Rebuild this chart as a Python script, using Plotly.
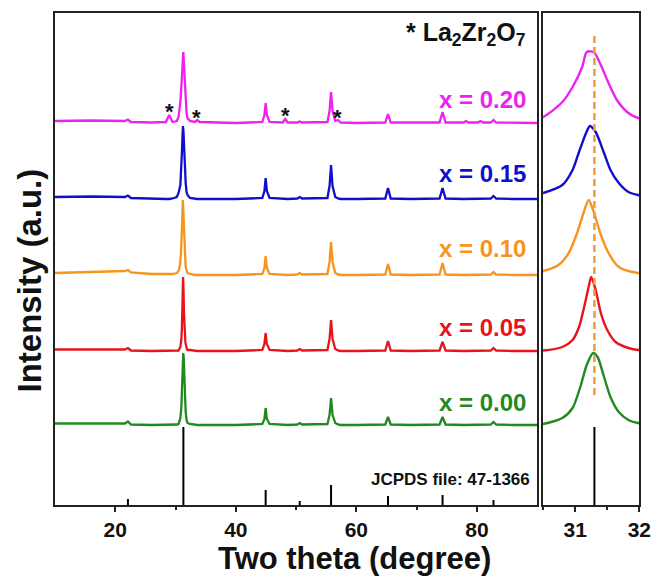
import plotly.graph_objects as go

# ---------------- data ----------------
SERIES = ["x = 0.20", "x = 0.15", "x = 0.10", "x = 0.05", "x = 0.00"]
COLORS = ["#ee22ee", "#1010cc", "#f7941d", "#e8141b", "#1f8a1f"]
OFFSETS = [382, 306, 230, 154, 80]

LOW_X = [10, 16, 21.6, 22.1, 22.6, 26, 28.4, 28.95, 29.5, 30.2]
LOW_Y = [
    [2, 2.5, 2, 3.5, 1, 0.5, 1, 8, 1, 2],
    [2, 2.5, 2, 3.5, 1, 0, 0, 0, 0.5, 2],
    [2, 3, 4, 5, 2.5, 1, 0.5, 0.5, 1, 2],
    [1.5, 1.5, 1.5, 3, 0.5, 0, 0, 0, 0.3, 0.5],
    [1.5, 1.5, 1.5, 3.5, 0.5, 0, 0, 0, 0.3, 0.5],
]

MAIN_X = [
    [30.5, 30.8, 30.96, 31.11, 31.18, 31.29, 31.40, 31.52, 31.65, 31.83, 31.98],
    [30.5, 30.8, 30.96, 31.06, 31.17, 31.23, 31.32, 31.45, 31.55, 31.68, 31.83, 31.98],
    [30.5, 30.74, 30.9, 31.03, 31.13, 31.21, 31.28, 31.39, 31.52, 31.68, 31.98],
    [30.5, 30.8, 30.96, 31.06, 31.14, 31.21, 31.25, 31.32, 31.40, 31.5, 31.63, 31.83, 31.98],
    [30.5, 30.8, 30.96, 31.08, 31.18, 31.28, 31.35, 31.45, 31.55, 31.68, 31.83, 31.98],
]
MAIN_Y = [
    [6, 21, 36, 56, 71, 71, 58, 40, 23, 10, 5],
    [6, 14, 29, 47, 66, 73, 67, 46, 29, 16, 7, 4],
    [4, 10, 22, 42, 62, 75, 65, 42, 22, 8, 2],
    [0.5, 4, 11, 24, 44, 64, 74, 61, 38, 21, 9, 3, 1],
    [1, 7, 17, 38, 60, 72, 68, 48, 28, 13, 5, 2],
]

HIGH_X = [32.4, 33.2, 33.6, 34.0, 40, 44.4, 44.75, 44.95, 45.15, 45.6, 47.8, 48.2, 48.6,
          50.2, 50.6, 51.0, 55.2, 55.55, 55.8, 56.05, 56.5, 56.95, 57.4, 60, 64.8, 65.25,
          65.7, 69, 73.8, 74.3, 74.8, 77.8, 78.2, 78.6, 80.2, 80.6, 81.0, 82.3, 82.75,
          83.2, 86, 90]
HIGH_Y = [
    [2, 1, 3, 1, 0, 1, 8, 20, 8, 1, 0.5, 4, 0.5, 0.5, 1.5, 0.5, 1, 12, 31, 12, 2, 3, 0.5,
     0, 0.5, 9, 0.5, 0.5, 0.5, 11, 0.5, 0.5, 2, 0.5, 0.5, 2, 0.5, 0.5, 3, 0.5, 0, 0],
    [1, 0, 0, 0, 0, 1, 8, 21, 8, 1, 0, 0, 0, 0.5, 2, 0.5, 1, 13, 34, 13, 2, 0.5, 0,
     0, 0.5, 11, 0.5, 0, 0.5, 11, 0.5, 0, 0, 0, 0, 0, 0, 0.5, 3, 0.5, 0, 0],
    [1, 0, 0, 0, 0, 1, 7, 19, 7, 1, 0, 0, 0, 0.5, 2, 0.5, 1, 13, 33, 13, 2, 0.5, 0,
     0, 0.5, 11, 0.5, 0, 0.5, 12, 0.5, 0, 0, 0, 0, 0, 0, 0.5, 3, 0.5, 0, 0],
    [1, 0, 0, 0, 0, 1, 7, 18, 7, 1, 0, 0, 0, 0.5, 2, 0.5, 1, 12, 31, 12, 2, 0.5, 0,
     0, 0.5, 10, 0.5, 0, 0.5, 9, 0.5, 0, 0, 0, 0, 0, 0, 0.5, 3, 0.5, 0, 0],
    [1, 0, 0, 0, 0, 1, 6, 17, 6, 1, 0, 0, 0, 0.5, 2, 0.5, 1, 10, 27, 10, 2, 0.5, 0,
     0, 0.5, 8, 0.5, 0, 0.5, 8, 0.5, 0, 0, 0, 0, 0, 0, 0.5, 3, 0.5, 0, 0],
]

# JCPDS 47-1366 reference sticks
STICK_POS = [22.1, 31.3, 44.95, 50.6, 55.8, 65.25, 74.3, 82.75]
STICK_H = [6, 78, 15, 4, 20, 9, 10, 5]

# La2Zr2O7 impurity peaks marked with "*"
STAR_POS = [28.95, 33.5, 48.2, 56.95]
REF_LINE_X = 31.3

X_TICKS_LEFT = [20, 40, 60, 80]
X_TICKS_RIGHT = [31, 32]

# ---------------- figure ----------------
W, H = 669, 578
FONT = "Liberation Sans, Arial, sans-serif"

def px_x(p):
    return p / W

def px_y(p):
    return (H - p) / H

fig = go.Figure()

for i, name in enumerate(SERIES):
    xs = LOW_X + MAIN_X[i] + HIGH_X
    ys = [v + OFFSETS[i] for v in LOW_Y[i] + MAIN_Y[i] + HIGH_Y[i]]
    fig.add_trace(go.Scatter(x=xs, y=ys, mode="lines", line=dict(color=COLORS[i], width=2.3),
                             xaxis="x", yaxis="y", showlegend=False, hoverinfo="skip"))
    fig.add_trace(go.Scatter(x=xs, y=ys, mode="lines",
                             line=dict(color=COLORS[i], width=2.4, shape="spline", smoothing=0.7),
                             xaxis="x2", yaxis="y2", showlegend=False, hoverinfo="skip"))

sx, sy = [], []
for p, h in zip(STICK_POS, STICK_H):
    sx += [p, p, None]
    sy += [0, h, None]
fig.add_trace(go.Scatter(x=sx, y=sy, mode="lines", line=dict(color="black", width=2),
                         xaxis="x", yaxis="y", showlegend=False, hoverinfo="skip"))
fig.add_trace(go.Scatter(x=sx, y=sy, mode="lines", line=dict(color="black", width=2),
                         xaxis="x2", yaxis="y2", showlegend=False, hoverinfo="skip"))

# dashed reference line in zoom panel
fig.add_trace(go.Scatter(x=[REF_LINE_X, REF_LINE_X], y=[110, 473], mode="lines",
                         line=dict(color="#f39a3a", width=2.5, dash="7px,4px"),
                         xaxis="x2", yaxis="y2", showlegend=False, hoverinfo="skip"))

axis_common = dict(showline=True, linecolor="#222", linewidth=1.5, mirror=True,
                   showgrid=False, zeroline=False)

fig.update_layout(
    width=W, height=H,
    margin=dict(l=0, r=0, t=0, b=0),
    paper_bgcolor="white", plot_bgcolor="white",
    xaxis=dict(domain=[56 / W, 547 / W], range=[10, 90], tickvals=X_TICKS_LEFT,
               ticks="outside", ticklen=5, tickwidth=1.5, tickcolor="#222",
               minor=dict(tickvals=[30, 50, 70], ticks="outside", ticklen=3,
                          tickwidth=1.5, tickcolor="#222"),
               tickfont=dict(family=FONT, size=21, color="#111", weight="bold"),
               anchor="y", **axis_common),
    yaxis=dict(domain=[px_y(505), px_y(13)], range=[0, 492], showticklabels=False,
               ticks="", anchor="x", **axis_common),
    xaxis2=dict(domain=[553 / W, 651 / W], range=[30.5, 32], tickvals=X_TICKS_RIGHT,
                ticks="outside", ticklen=5, tickwidth=1.5, tickcolor="#222",
                minor=dict(tickvals=[30.5, 31.5], ticks="outside", ticklen=3,
                           tickwidth=1.5, tickcolor="#222"),
                tickfont=dict(family=FONT, size=21, color="#111", weight="bold"),
                anchor="y2", **axis_common),
    yaxis2=dict(domain=[px_y(505), px_y(13)], range=[0, 492], showticklabels=False,
                ticks="", anchor="x2", **axis_common),
)

annotations = []
label_y = [100, 173, 248, 327, 402]
for i, name in enumerate(SERIES):
    annotations.append(dict(text=name, x=px_x(538), y=px_y(label_y[i]), xref="paper",
                            yref="paper", xanchor="right", yanchor="middle", showarrow=False,
                            font=dict(family=FONT, size=24, color=COLORS[i], weight="bold")))

star_y = [112, 117, 116, 117]
for p, yy in zip(STAR_POS, star_y):
    annotations.append(dict(text="*", x=p, y=px_y(yy), xref="x", yref="paper",
                            xanchor="center", yanchor="middle", showarrow=False,
                            font=dict(family=FONT, size=22, color="#111", weight="bold")))

annotations += [
    dict(text="* La<sub>2</sub>Zr<sub>2</sub>O<sub>7</sub>", x=px_x(538), y=px_y(34),
         xref="paper", yref="paper", xanchor="right", yanchor="middle", showarrow=False,
         font=dict(family=FONT, size=25, color="#111", weight="bold")),
    dict(text="JCPDS file: 47-1366", x=px_x(542), y=px_y(479), xref="paper", yref="paper",
         xanchor="right", yanchor="middle", showarrow=False,
         font=dict(family=FONT, size=17, color="#111", weight="bold")),
    dict(text="Two theta (degree)", x=px_x(361), y=px_y(558.5), xref="paper", yref="paper",
         xanchor="center", yanchor="middle", showarrow=False,
         font=dict(family=FONT, size=31, color="#111", weight="bold")),
    dict(text="Intensity (a.u.)", x=px_x(30), y=px_y(280), xref="paper", yref="paper",
         xanchor="center", yanchor="middle", showarrow=False, textangle=-90,
         font=dict(family=FONT, size=33, color="#111", weight="bold")),
]
fig.update_layout(annotations=annotations)

fig.write_html("out.html")
